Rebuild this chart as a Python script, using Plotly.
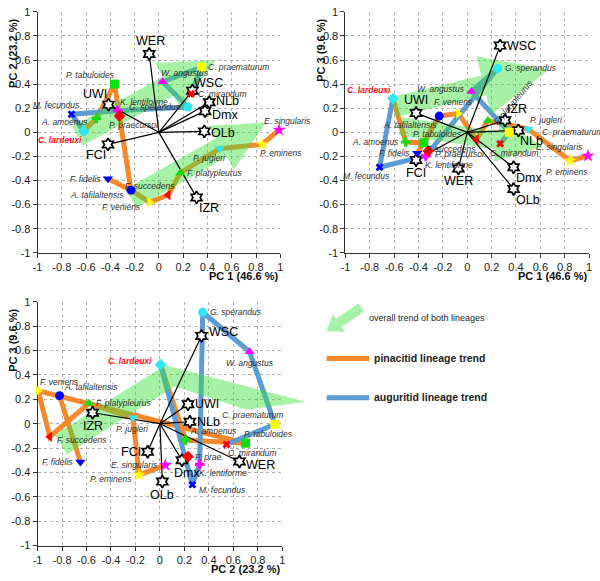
import plotly.graph_objects as go
import numpy as np

# ---------------- data ----------------
species = ["C. lardeuxi", "M. fecundus", "K. lentiforme", "G. sperandus", "W. angustus",
           "C. praematurum", "C. mirandum", "A. amoenus", "P. tabuloides", "P. praecursor",
           "A. tafilaltensis", "F. fidelis", "F. veniens", "F. succedens", "F. platypleurus",
           "P. jugleri", "P. eminens", "E. singularis"]

# panel A: PC1 (x) vs PC2 (y)
a_pc1 = [-0.62, -0.72, -0.34, 0.24, 0.03, 0.35, 0.265, -0.515, -0.366, -0.325,
         -0.23, -0.42, -0.076, 0.076, 0.176, 0.50, 0.85, 0.99]
a_pc2 = [0.01, 0.15, 0.18, 0.21, 0.42, 0.54, 0.32, 0.116, 0.40, 0.135,
         -0.48, -0.385, -0.58, -0.52, -0.337, -0.135, -0.10, 0.02]
# panel B: PC1 (x) vs PC3 (y)
b_pc1 = [-0.61, -0.72, -0.34, 0.25, 0.035, 0.345, 0.27, -0.505, -0.356, -0.32,
         -0.23, -0.41, -0.073, 0.075, 0.17, 0.50, 0.845, 0.99]
b_pc3 = [0.28, -0.29, -0.195, 0.53, 0.34, 0.0, -0.095, -0.08, -0.087, -0.155,
         0.135, -0.174, 0.157, -0.06, 0.098, 0.027, -0.236, -0.195]
# panel C: PC2 (x) vs PC3 (y)
c_pc2 = [0.005, 0.265, 0.325, 0.35, 0.733, 0.94, 0.544, 0.21, 0.70, 0.23,
         -0.82, -0.65, -0.995, -0.90, -0.58, -0.22, -0.17, 0.045]
c_pc3 = [0.484, -0.50, -0.333, 0.914, 0.59, -0.005, -0.17, -0.134, -0.16, -0.27,
         0.23, -0.315, 0.27, -0.107, 0.167, 0.048, -0.42, -0.34]

variables = ["WER", "WSC", "NLb", "Dmx", "OLb", "UWI", "FCI", "IZR"]
a_var_x = [-0.08, 0.276, 0.415, 0.38, 0.374, -0.415, -0.42, 0.31]
a_var_y = [0.65, 0.346, 0.25, 0.176, 0.008, 0.23, -0.10, -0.54]
b_var_x = [-0.073, 0.27, 0.42, 0.38, 0.38, -0.42, -0.42, 0.31]
b_var_y = [-0.30, 0.72, 0.016, -0.29, -0.47, 0.16, -0.23, 0.10]
c_var_x = [0.65, 0.34, 0.245, 0.18, 0.02, 0.23, -0.10, -0.55]
c_var_y = [-0.31, 0.72, 0.016, -0.30, -0.475, 0.16, -0.23, 0.09]

pinacitid_paths = [["C. lardeuxi", "A. amoenus", "P. tabuloides", "A. tafilaltensis", "F. veniens",
                    "F. succedens", "F. platypleurus", "P. jugleri", "P. eminens", "E. singularis"],
                   ["A. tafilaltensis", "F. fidelis"]]
auguritid_paths = [["C. lardeuxi", "M. fecundus", "K. lentiforme", "G. sperandus", "W. angustus",
                    "C. praematurum", "C. mirandum"]]

tick_vals = [-1, -0.8, -0.6, -0.4, -0.2, 0, 0.2, 0.4, 0.6, 0.8, 1]
tick_text = ["-1", "-0.8", "-0.6", "-0.4", "-0.2", "0", "0.2", "0.4", "0.6", "0.8", "1"]

# ---------------- styles ----------------
FONT = "Liberation Sans, Arial, sans-serif"
ORANGE = "#f6882c"
BLUE = "#5c9bd3"
ARROW_FILL = "rgba(60,225,60,0.45)"
CY, MG, YE, RD, GR, BL = "#2fe6f2", "#ff00ff", "#ffff00", "#ff0000", "#11dd11", "#0000ff"
marker_style = {
    "C. lardeuxi": ("diamond", CY), "M. fecundus": ("x", BL), "K. lentiforme": ("cross", MG),
    "G. sperandus": ("circle", CY), "W. angustus": ("triangle-up", MG),
    "C. praematurum": ("square", YE), "C. mirandum": ("x", RD), "A. amoenus": ("cross", GR),
    "P. tabuloides": ("square", GR), "P. praecursor": ("diamond", RD),
    "A. tafilaltensis": ("circle", BL), "F. fidelis": ("triangle-down", BL),
    "F. veniens": ("triangle-right", YE), "F. succedens": ("triangle-left", RD),
    "F. platypleurus": ("triangle-up", GR), "P. jugleri": ("triangle-down", CY),
    "P. eminens": ("star", YE), "E. singularis": ("star", MG),
}
marker_size = {"x": 7, "cross": 8, "star": 10}

ANCH = {
    "r": ("left", "middle", 5, 0), "l": ("right", "middle", -5, 0),
    "t": ("center", "bottom", 0, 4), "b": ("center", "top", 0, -4),
    "tr": ("left", "bottom", 0, 2), "tl": ("right", "bottom", 0, 2),
    "br": ("left", "top", 0, -2), "bl": ("right", "top", 0, -2),
}

a_lab = {"C. lardeuxi": ("bl", 0, 0), "M. fecundus": ("tl", 10, 0), "K. lentiforme": ("tr", 0, 0),
         "G. sperandus": ("l", 0, 0), "W. angustus": ("tr", -4, 0), "C. praematurum": ("r", 0, 0),
         "C. mirandum": ("r", 0, 0), "A. amoenus": ("l", -1, -4), "P. tabuloides": ("tl", 2, 0),
         "P. praecursor": ("br", -12, 0), "A. tafilaltensis": ("l", 0, -5), "F. fidelis": ("l", 0, 0),
         "F. veniens": ("l", -2, -5), "F. succedens": ("tl", 9, 0), "F. platypleurus": ("r", 0, 0),
         "P. jugleri": ("bl", 8, 0), "P. eminens": ("br", -4, 0), "E. singularis": ("tr", -17, 0)}
a_vlab = {"WER": ("t", 1, 0), "WSC": ("tr", 0, -3), "NLb": ("r", 0, 1), "Dmx": ("r", 0, -4),
          "OLb": ("r", 0, -2), "UWI": ("tl", 0, 0), "FCI": ("bl", 0, 0), "IZR": ("br", 0, 0)}

b_lab = {"C. lardeuxi": ("tl", 0, 0), "M. fecundus": ("bl", 12, 0), "K. lentiforme": ("br", -3, 0),
         "G. sperandus": ("r", 0, 0), "W. angustus": ("l", 0, 2), "C. praematurum": ("r", 26, 0),
         "C. mirandum": ("br", -12, 0), "A. amoenus": ("l", 0, 0), "P. tabuloides": ("tr", -13, 0),
         "P. praecursor": ("r", 0, -3), "A. tafilaltensis": ("bl", 0, 0), "F. fidelis": ("l", 0, 0),
         "F. veniens": ("t", -5, 0), "F. succedens": ("bl", 2, 0), "F. platypleurus": ("rot", 25, 19),
         "P. jugleri": ("tr", 0, 0), "P. eminens": ("b", -3, 0), "E. singularis": ("tl", -3, 0)}
b_vlab = {"WER": ("b", 0, 0), "WSC": ("r", 0, 0), "NLb": ("br", 0, 0), "Dmx": ("br", 0, 0),
          "OLb": ("br", 0, 0), "UWI": ("t", 0, 0), "FCI": ("b", 0, 0), "IZR": ("tr", 0, 0)}

c_lab = {"C. lardeuxi": ("l", -2, 4), "M. fecundus": ("r", 0, -5), "K. lentiforme": ("br", -3, 0),
         "G. sperandus": ("r", 0, 0), "W. angustus": ("b", 0, 0), "C. praematurum": ("tl", 10, 0),
         "C. mirandum": ("br", 0, 0), "A. amoenus": ("tr", 2, 0), "P. tabuloides": ("tr", -4, 0),
         "P. praecursor": ("r", 0, 0), "A. tafilaltensis": ("tr", 2, 0), "F. fidelis": ("l", 0, 0),
         "F. veniens": ("tr", 0, 0), "F. succedens": ("r", 0, -3), "F. platypleurus": ("r", 0, 0),
         "P. jugleri": ("b", 0, 0), "P. eminens": ("l", 0, -4), "E. singularis": ("l", 0, 0)}
c_vlab = {"WER": ("r", 0, -4), "WSC": ("r", 0, 4), "NLb": ("r", 0, 0), "Dmx": ("b", 5, 0),
          "OLb": ("b", 0, 0), "UWI": ("r", 0, 0), "FCI": ("l", 0, 0), "IZR": ("b", 0, 0)}
c_names = {"P. praecursor": "P. prae."}


def arrow_poly(tail, tip, sw, hw, hl):
    tail = np.array(tail, float); tip = np.array(tip, float)
    u = (tip - tail) / np.linalg.norm(tip - tail)
    n = np.array([-u[1], u[0]])
    base = tip - hl * u
    pts = [tail + sw * n, base + sw * n, base + hw * n, tip, base - hw * n, base - sw * n, tail - sw * n, tail + sw * n]
    return [p[0] for p in pts], [p[1] for p in pts]


# green overall-trend arrows (decorative geometry, per panel)
a_arrows = [arrow_poly((-0.67, -0.03), (0.47, 0.60), 0.09, 0.22, 0.45),
            arrow_poly((-0.23, -0.55), (0.88, 0.08), 0.09, 0.21, 0.42)]
b_arrows = [arrow_poly((-0.60, 0.21), (0.67, 0.52), 0.085, 0.25, 0.55),
            arrow_poly((-0.55, 0.05), (0.62, -0.12), 0.075, 0.18, 0.38)]
c_arrows = [([-0.86, 0.02, 0.005, 1.19, 0.71, 0.12, -0.76, -0.86],
             [-0.09, 0.465, 0.49, 0.18, 0.115, 0.305, -0.25, -0.09])]

fig = go.Figure()


def panel(xs, ys, vx, vy, xa, ya, lab, vlab, arrows, names=None):
    names = names or {}
    idx = {s: i for i, s in enumerate(species)}
    # lineage lines
    for paths, col in ((pinacitid_paths, ORANGE), (auguritid_paths, BLUE)):
        lx, ly = [], []
        for p in paths:
            lx += [xs[idx[s]] for s in p] + [None]
            ly += [ys[idx[s]] for s in p] + [None]
        fig.add_trace(go.Scatter(x=lx, y=ly, mode="lines", xaxis=xa, yaxis=ya,
                                 line=dict(color=col, width=5), hoverinfo="skip"))
    # trend arrows
    for ax_, ay_ in arrows:
        fig.add_trace(go.Scatter(x=ax_, y=ay_, mode="lines", fill="toself", fillcolor=ARROW_FILL,
                                 line=dict(width=0, color="rgba(0,0,0,0)"), xaxis=xa, yaxis=ya,
                                 hoverinfo="skip"))
    # loading vectors
    vlx, vly = [], []
    for x, y in zip(vx, vy):
        vlx += [0, x, None]; vly += [0, y, None]
    fig.add_trace(go.Scatter(x=vlx, y=vly, mode="lines", line=dict(color="black", width=1.2),
                             xaxis=xa, yaxis=ya, hoverinfo="skip"))
    fig.add_trace(go.Scatter(x=vx, y=vy, mode="markers", xaxis=xa, yaxis=ya, cliponaxis=False,
                             marker=dict(symbol="hexagram", size=9.5, color="white",
                                         line=dict(color="black", width=1.7))))
    # species markers
    for i, s in enumerate(species):
        sym, col = marker_style[s]
        sz = marker_size.get(sym, 9)
        mk = dict(symbol=sym, size=sz, color=col, line=dict(width=0))
        fig.add_trace(go.Scatter(x=[xs[i]], y=[ys[i]], mode="markers", xaxis=xa, yaxis=ya,
                                 cliponaxis=False, marker=mk))
    # labels
    for i, s in enumerate(species):
        code, dx, dy = lab[s]
        txt = names.get(s, s)
        if s == "C. lardeuxi":
            txt = "<b><i>%s</i></b>" % txt
            fcol = "#ff1010"
        else:
            txt = "<i>%s</i>" % txt
            fcol = "#303030"
        if code == "rot":
            fig.add_annotation(x=xs[i], y=ys[i], xref=xa, yref=ya, text=txt, showarrow=False,
                               textangle=-50, xanchor="center", yanchor="middle", xshift=dx, yshift=dy,
                               font=dict(family=FONT, size=8.5, color=fcol))
            continue
        xan, yan, sx, sy = ANCH[code]
        fig.add_annotation(x=xs[i], y=ys[i], xref=xa, yref=ya, text=txt, showarrow=False,
                           xanchor=xan, yanchor=yan, xshift=sx + dx, yshift=sy + dy,
                           font=dict(family=FONT, size=8.5, color=fcol))
    for j, v in enumerate(variables):
        code, dx, dy = vlab[v]
        xan, yan, sx, sy = ANCH[code]
        fig.add_annotation(x=vx[j], y=vy[j], xref=xa, yref=ya, text=v, showarrow=False,
                           xanchor=xan, yanchor=yan, xshift=sx + dx, yshift=sy + dy,
                           font=dict(family=FONT, size=12.5, color="black"))


panel(a_pc1, a_pc2, a_var_x, a_var_y, "x", "y", a_lab, a_vlab, a_arrows)
panel(b_pc1, b_pc3, b_var_x, b_var_y, "x2", "y2", b_lab, b_vlab, b_arrows)
# the visible frame of panel C (axes 3) gets an empty trace so that it is drawn;
# panel C marks live on an invisible, wider twin of axes 3 with the same scale, so that
# the trend arrow may run past the right edge of the frame as in the original
fig.add_trace(go.Scatter(x=[], y=[], xaxis="x3", yaxis="y3", mode="markers", hoverinfo="skip"))
panel(c_pc2, c_pc3, c_var_x, c_var_y, "x4", "y4", c_lab, c_vlab, c_arrows, c_names)

W, H = 600, 581
axis_common = dict(range=[-1, 1], tickvals=tick_vals, ticktext=tick_text, showline=True,
                   linecolor="#333", linewidth=1, ticks="outside", ticklen=4, tickcolor="#333",
                   showgrid=True, gridcolor="#b0b0b0", griddash="dot", gridwidth=1, zeroline=False,
                   tickfont=dict(family=FONT, size=11, color="#222"), mirror=False)

x3_left, x3_right, x4_right = 33, 281, 312
x4_max = -1 + 2 * (x4_right - x3_left) / (x3_right - x3_left)

fig.update_layout(
    width=W, height=H, margin=dict(l=0, r=0, t=0, b=0), showlegend=False,
    paper_bgcolor="white", plot_bgcolor="rgba(0,0,0,0)",
    xaxis=dict(domain=[33 / W, 279 / W], anchor="y", **axis_common),
    yaxis=dict(domain=[1 - 252 / H, 1 - 6 / H], anchor="x", **axis_common),
    xaxis2=dict(domain=[345 / W, 592 / W], anchor="y2", **axis_common),
    yaxis2=dict(domain=[1 - 252 / H, 1 - 6 / H], anchor="x2", **axis_common),
    xaxis3=dict(domain=[x3_left / W, x3_right / W], anchor="y3", **axis_common),
    yaxis3=dict(domain=[1 - 551 / H, 1 - 302 / H], anchor="x3", **axis_common),
    xaxis4=dict(domain=[x3_left / W, x4_right / W], anchor="y4", range=[-1, x4_max], visible=False,
                showgrid=False, zeroline=False),
    yaxis4=dict(domain=[1 - 551 / H, 1 - 302 / H], anchor="x4", range=[-1, 1], visible=False,
                showgrid=False, zeroline=False),
)

# axis titles
titles = [("x", "y", "PC 1 (46.6 %)", "PC 2 (23.2 %)"),
          ("x2", "y2", "PC 1 (46.6 %)", "PC 3 (9.6 %)"),
          ("x3", "y3", "PC 2 (23.2 %)", "PC 3 (9.6 %)")]
for xa, ya, xt, yt in titles:
    fig.add_annotation(x=1, y=0, xref=xa + " domain", yref=ya + " domain", text="<b>%s</b>" % xt,
                       showarrow=False, xanchor="right", yanchor="top", yshift=-15,
                       font=dict(family=FONT, size=11, color="#111"))
    fig.add_annotation(x=0, y=1, xref=xa + " domain", yref=ya + " domain", text="<b>%s</b>" % yt,
                       showarrow=False, xanchor="center", yanchor="top", xshift=-24, yshift=-5,
                       textangle=-90, font=dict(family=FONT, size=11, color="#111"))

# legend (bottom right)
def px(x, y):
    return x / W, 1 - y / H

lx, ly = arrow_poly((361, 308), (326, 332), 5, 11, 15)
path = "M " + " L ".join("%.4f,%.4f" % px(a, b) for a, b in zip(lx, ly)) + " Z"
fig.add_shape(type="path", path=path, xref="paper", yref="paper", fillcolor=ARROW_FILL,
              line=dict(width=0))
for yy, col in ((360, ORANGE), (400, BLUE)):
    x0, y0 = px(326, yy); x1, _ = px(369, yy)
    fig.add_shape(type="line", x0=x0, x1=x1, y0=y0, y1=y0, xref="paper", yref="paper",
                  line=dict(color=col, width=5))
for yy, txt, sz, bold in ((319, "overall trend of both lineages", 9, False),
                          (359, "pinacitid lineage trend", 10.5, True),
                          (399, "auguritid lineage trend", 10.5, True)):
    x0, y0 = px(367 if not bold else 372, yy)
    fig.add_annotation(x=x0, y=y0, xref="paper", yref="paper", showarrow=False,
                       text=("<b>%s</b>" % txt) if bold else txt, xanchor="left", yanchor="middle",
                       font=dict(family=FONT, size=sz, color="#222"))

fig.write_html("out.html", config={"displayModeBar": False},
               post_script="document.body.style.margin='0px';")
